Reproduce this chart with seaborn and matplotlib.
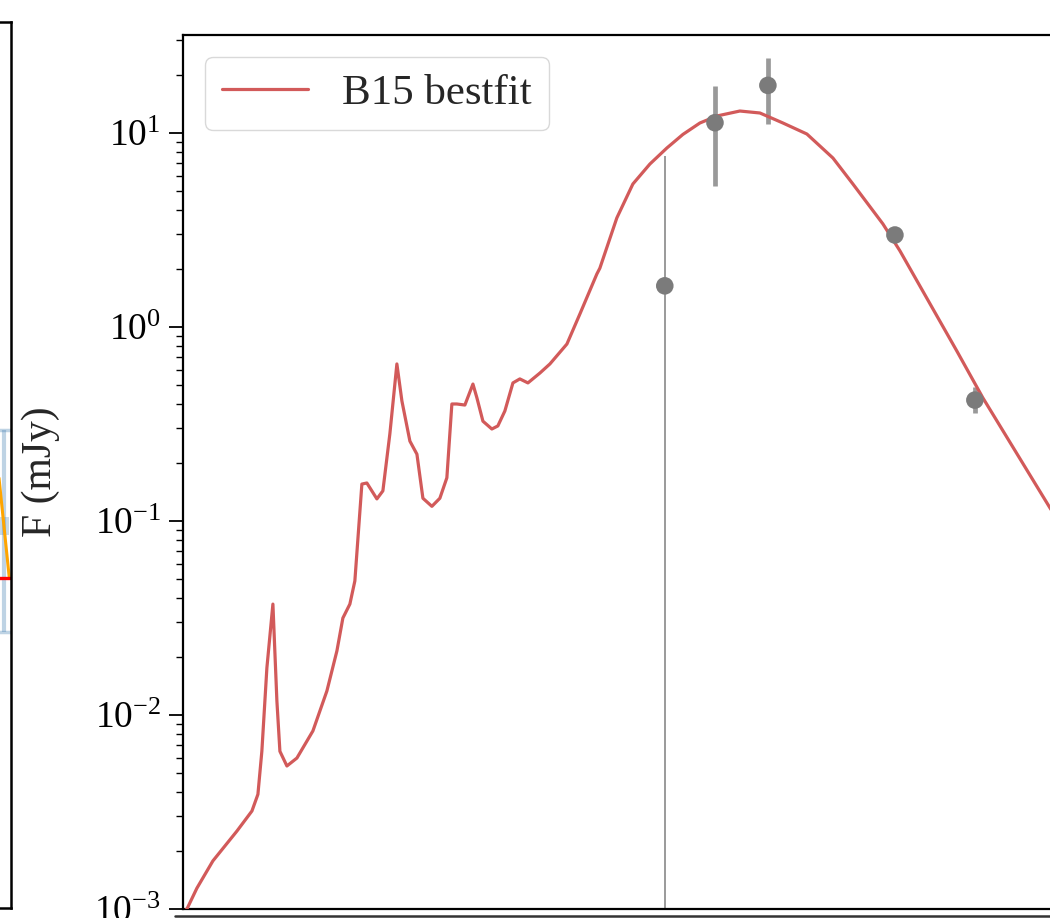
import numpy as np
import pandas as pd
import matplotlib
matplotlib.use("Agg")
import matplotlib.pyplot as plt
from matplotlib.lines import Line2D
import seaborn as sns

# ---------------- data ----------------
# B15 best-fit SED model: wavelength (micron) and flux density (mJy)
model_wave = [1.823, 1.849, 1.979, 2.208, 2.601, 2.883, 3.003, 3.085, 3.193, 3.327,
              3.419, 3.490, 3.661, 3.920, 4.373, 4.811, 5.152, 5.366, 5.629, 5.824,
              6.110, 6.322, 6.770, 7.053, 7.397, 7.761, 8.031, 8.483, 8.900, 9.271,
              9.858, 10.41, 10.92, 11.30, 11.69, 12.35, 13.05, 13.41, 13.97, 14.85,
              15.47, 16.23, 17.15, 17.98, 19.00, 20.62, 22.08, 24.80, 27.10, 30.43,
              31.06, 34.88, 38.92, 43.72, 49.10, 54.77, 61.52, 69.12, 80.85, 92.72,
              108.5, 127.8, 152.7, 175.0, 214.8, 241.3, 356.0, 425.4, 672.3, 999.3]
model_flux = [0.00098, 0.00100, 0.00128, 0.00177, 0.00252, 0.0032, 0.0039, 0.0065, 0.0175, 0.0373,
              0.0118, 0.0065, 0.00546, 0.0060, 0.00828, 0.0133, 0.0214, 0.0316, 0.0373, 0.0491,
              0.155, 0.157, 0.130, 0.143, 0.281, 0.645, 0.416, 0.258, 0.221, 0.131,
              0.119, 0.131, 0.167, 0.401, 0.401, 0.396, 0.508, 0.431, 0.327, 0.298,
              0.309, 0.369, 0.515, 0.540, 0.515, 0.579, 0.645, 0.817, 1.167, 1.876,
              2.01, 3.65, 5.46, 6.92, 8.37, 9.83, 11.26, 12.24, 12.98, 12.68,
              11.26, 9.88, 7.43, 5.46, 3.40, 2.47, 0.752, 0.431, 0.117, 0.0387]

# photometry (micron, mJy)
phot_wave = [48.4, 68.2, 97.9, 233.2, 402.7]
phot_flux = [1.63, 11.3, 17.6, 2.98, 0.42]
phot_err_lo = [1.629999, 6.0, 6.5, 0.2, 0.06]
phot_err_hi = [5.97, 6.2, 6.8, 0.2, 0.07]
phot_secure = [False, True, True, True, True]

legend_label = "B15 bestfit"
y_label = "F (mJy)"

# fragments of the neighbouring (left) panel, axes-fraction units
left_err_x = [0.980]
left_err_y = [0.4255]
left_err_half = [0.114]
left_band_x = [0.94, 0.9954]
left_band_lo = [0.421, 0.421]
left_band_hi = [0.4413, 0.4413]
left_orange_x = [0.9646, 0.9963]
left_orange_y = [0.4855, 0.3725]
left_red_x = [0.90, 0.997]
left_red_y = [0.3725, 0.3725]

# ---------------- style ----------------
sns.set_theme(style="ticks")
plt.rcParams["font.family"] = ["Liberation Serif", "DejaVu Serif"]
plt.rcParams["mathtext.fontset"] = "custom"
plt.rcParams["mathtext.rm"] = "Liberation Serif"
plt.rcParams["mathtext.it"] = "Liberation Serif:italic"
plt.rcParams["axes.edgecolor"] = "black"

fig = plt.figure(figsize=(10.5, 9.18), dpi=100)

# ---- main panel (extends past the right edge of the crop) ----
ax = fig.add_axes([183 / 1050, (918 - 909) / 918, 925 / 1050, (909 - 35) / 918])
ax.set_xscale("log")
ax.set_yscale("log")

model_df = pd.DataFrame({"wave": model_wave, "flux": model_flux})
sns.lineplot(data=model_df, x="wave", y="flux", ax=ax, color="#d25a5a", lw=2.3,
             sort=False, estimator=None, label=legend_label, zorder=3)

pw = np.array(phot_wave)
pf = np.array(phot_flux)
plo = np.array(phot_err_lo)
phi = np.array(phot_err_hi)
sec = np.array(phot_secure)

ax.errorbar(pw[~sec], pf[~sec], yerr=[plo[~sec], phi[~sec]], fmt="none",
            ecolor="#9a9a9a", elinewidth=1.4, capsize=0, zorder=2)
ax.errorbar(pw[sec], pf[sec], yerr=[plo[sec], phi[sec]], fmt="none",
            ecolor="#999999", elinewidth=3.4, capsize=0, zorder=2)
sns.scatterplot(x=pw, y=pf, ax=ax, color="#7b7b7b", s=160, edgecolor="none",
                zorder=4, legend=False)

ax.set_xlim(1.8, 1000)
ax.set_ylim(1e-3, 32)
ax.set_xlabel("")
ax.set_ylabel(y_label, fontsize=30)
ax.yaxis.set_label_coords(-0.133, 0.5)
ax.tick_params(axis="x", which="both", bottom=False, labelbottom=False)
ax.tick_params(axis="y", which="major", length=10, width=1.3, labelsize=27,
               pad=6, colors="black")
ax.tick_params(axis="y", which="minor", length=5, width=1.0, colors="black")
for s in ["left", "top", "bottom", "right"]:
    ax.spines[s].set_linewidth(1.6)
    ax.spines[s].set_color("black")

leg = ax.legend(loc="upper left", fontsize=31, frameon=True, fancybox=True,
                framealpha=0.8, edgecolor="#d0d0d0", handlelength=2.0,
                handletextpad=0.8, borderaxespad=0.5)

# ---- neighbouring panel on the left (only its right edge is visible) ----
ax0 = fig.add_axes([-0.30, (918 - 908) / 918, 0.31, (908 - 22) / 918])
ax0.set_xlim(0, 1)
ax0.set_ylim(0, 1)
ax0.errorbar(left_err_x, left_err_y, yerr=left_err_half, fmt="none",
             ecolor="steelblue", alpha=0.35, elinewidth=3, capsize=9, capthick=2.5)
ax0.fill_between(left_band_x, left_band_lo, left_band_hi, color="steelblue",
                 alpha=0.3, lw=0)
ax0.plot(left_orange_x, left_orange_y, color="orange", lw=2.2)
ax0.plot(left_red_x, left_red_y, color="red", lw=2.4)
ax0.set_xticks([])
ax0.set_yticks([])
for s in ["left", "top", "bottom", "right"]:
    ax0.spines[s].set_linewidth(1.8)
    ax0.spines[s].set_color("black")

# top edge of the panel below (visible as a line at the very bottom)
fig.add_artist(Line2D([175 / 1050, 1.0], [(918 - 915.5) / 918] * 2,
                      transform=fig.transFigure, color="#333333", lw=1.8))

fig.savefig("out.png", dpi=100)
